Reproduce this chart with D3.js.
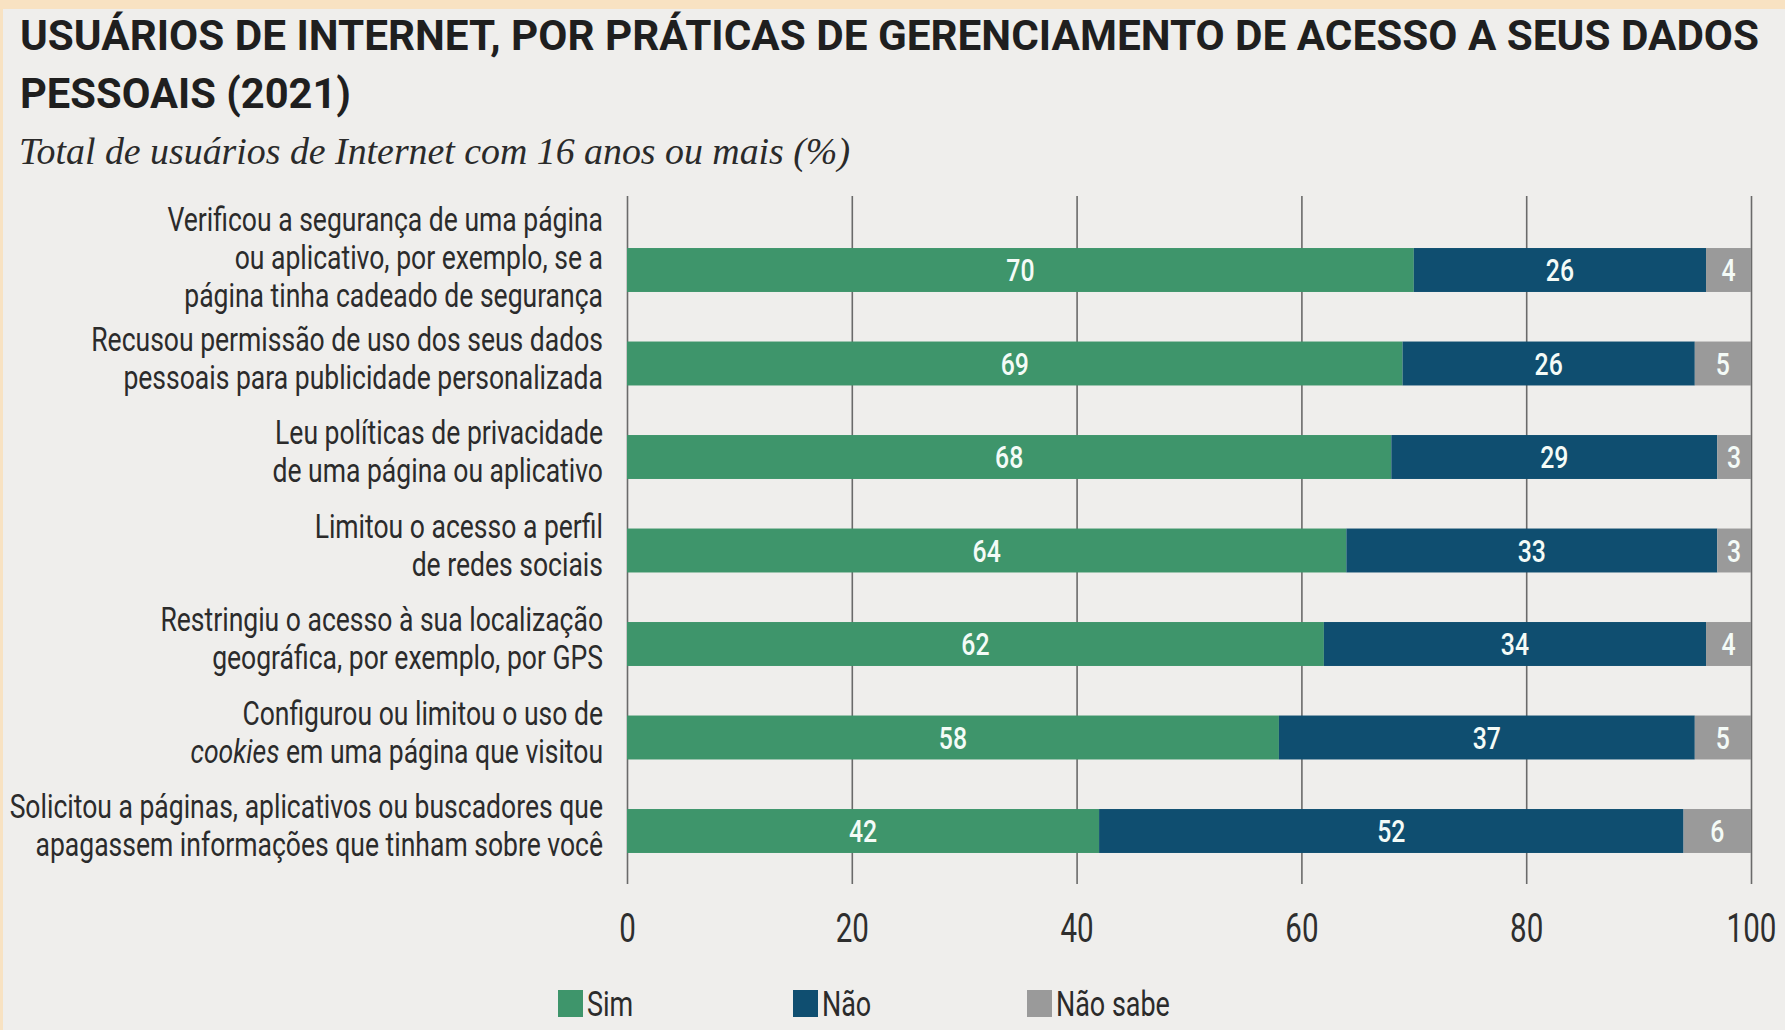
<!DOCTYPE html>
<html>
<head>
<meta charset="utf-8">
<script src="https://cdn.jsdelivr.net/npm/d3@7"></script>
<style>
  html, body { margin: 0; padding: 0; background: #efeeec; }
  svg { display: block; }
</style>
</head>
<body>
<div id="chart"></div>
<script>
// categorias (cada item = linhas do rótulo)
const categories = [
  ["Verificou a segurança de uma página", "ou aplicativo, por exemplo, se a", "página tinha cadeado de segurança"],
  ["Recusou permissão de uso dos seus dados", "pessoais para publicidade personalizada"],
  ["Leu políticas de privacidade", "de uma página ou aplicativo"],
  ["Limitou o acesso a perfil", "de redes sociais"],
  ["Restringiu o acesso à sua localização", "geográfica, por exemplo, por GPS"],
  ["Configurou ou limitou o uso de", "*cookies* em uma página que visitou"],
  ["Solicitou a páginas, aplicativos ou buscadores que", "apagassem informações que tinham sobre você"]
];
const seriesNames = ["Sim", "Não", "Não sabe"];
const sim = [70, 69, 68, 64, 62, 58, 42];
const nao = [26, 26, 29, 33, 34, 37, 52];
const naoSabe = [4, 5, 3, 3, 4, 5, 6];
const tickValues = [0, 20, 40, 60, 80, 100];
const colors = ["#3e956b", "#0f4e70", "#9a9a9a"];

const W = 1785, H = 1030;
const FONT = "Roboto, 'Noto Sans', sans-serif";

const svg = d3.select("#chart").append("svg")
  .attr("width", W).attr("height", H);

// fundo e borda
svg.append("rect").attr("width", W).attr("height", H).attr("fill", "#efeeec");
svg.append("rect").attr("width", W).attr("height", 9).attr("fill", "#f8e2c2");
svg.append("rect").attr("width", 3).attr("height", H).attr("fill", "#f8e2c2");

// título
svg.append("text")
  .attr("x", 20).attr("y", 50)
  .attr("textLength", 1739).attr("lengthAdjust", "spacingAndGlyphs")
  .style("font-family", FONT).style("font-weight", 700).style("font-size", "42px")
  .attr("fill", "#1f1f1f")
  .text("USUÁRIOS DE INTERNET, POR PRÁTICAS DE GERENCIAMENTO DE ACESSO A SEUS DADOS");
svg.append("text")
  .attr("x", 20).attr("y", 108)
  .attr("textLength", 331).attr("lengthAdjust", "spacingAndGlyphs")
  .style("font-family", FONT).style("font-weight", 700).style("font-size", "42px")
  .attr("fill", "#1f1f1f")
  .text("PESSOAIS (2021)");
svg.append("text")
  .attr("x", 19).attr("y", 164)
  .attr("textLength", 831).attr("lengthAdjust", "spacingAndGlyphs")
  .style("font-family", "'Liberation Serif', 'DejaVu Serif', serif")
  .style("font-style", "italic").style("font-size", "38px")
  .attr("fill", "#2a2a2a")
  .text("Total de usuários de Internet com 16 anos ou mais (%)");

// escalas
const x = d3.scaleLinear().domain([0, 100]).range([627, 1751]);
const y = d3.scaleBand()
  .domain(d3.range(categories.length))
  .range([223.25, 877.75])
  .paddingInner(0.53)
  .paddingOuter(0.265);

const gridTop = 196, gridBottom = 884;

// eixo / linhas de grade
const axis = svg.append("g")
  .attr("transform", `translate(0,${gridBottom})`)
  .call(d3.axisBottom(x).tickValues(tickValues).tickSize(-(gridBottom - gridTop)).tickPadding(29));
axis.select(".domain").remove();
axis.selectAll(".tick line").attr("stroke", "#6a6a6a").attr("stroke-width", 1.6);
axis.selectAll(".tick text")
  .attr("fill", "#2e2e2e")
  .style("font-family", FONT).style("font-size", "41px")
  .attr("transform", "scale(0.72,1)");

// barras empilhadas
const rows = categories.map((c, i) => ({ i, values: [sim[i], nao[i], naoSabe[i]] }));
const stacked = [];
rows.forEach(r => {
  let acc = 0;
  r.values.forEach((v, s) => {
    stacked.push({ i: r.i, s, v, x0: acc, x1: acc + v });
    acc += v;
  });
});

svg.append("g").selectAll("rect")
  .data(stacked)
  .join("rect")
  .attr("x", d => x(d.x0))
  .attr("y", d => y(d.i))
  .attr("width", d => x(d.x1) - x(d.x0))
  .attr("height", y.bandwidth())
  .attr("fill", d => colors[d.s]);

// valores nas barras
svg.append("g").selectAll("g")
  .data(stacked)
  .join("g")
  .attr("transform", d => `translate(${(x(d.x0) + x(d.x1)) / 2},${y(d.i) + y.bandwidth() / 2})`)
  .append("text")
  .attr("text-anchor", "middle")
  .attr("dy", "0.36em")
  .attr("transform", "scale(0.8,1)")
  .attr("fill", "#f4fbf7")
  .style("font-family", FONT).style("font-weight", 500).style("font-size", "31px")
  .text(d => d.v);

// rótulos das categorias
const lineH = 38;
const labelG = svg.append("g").selectAll("g")
  .data(categories)
  .join("g")
  .attr("transform", (d, i) => `translate(603,${y(i) + y.bandwidth() / 2 - 6 - (d.length - 2) * 7})`);

labelG.each(function(lines) {
  const g = d3.select(this).append("g").attr("transform", "scale(0.78,1)");
  const n = lines.length;
  lines.forEach((line, k) => {
    const t = g.append("text")
      .attr("x", 0)
      .attr("y", (k - (n - 1) / 2) * lineH)
      .attr("dy", "0.36em")
      .attr("text-anchor", "end")
      .attr("fill", "#2b2b2b")
      .style("font-family", FONT).style("font-size", "34px");
    const parts = line.split("*");
    parts.forEach((p, j) => {
      if (!p) return;
      t.append("tspan").style("font-style", j % 2 ? "italic" : "normal").text(p);
    });
  });
});

// legenda
const legendX = [558, 793, 1027];
const legend = svg.append("g").selectAll("g")
  .data(seriesNames)
  .join("g")
  .attr("transform", (d, i) => `translate(${legendX[i]},990)`);
legend.append("rect")
  .attr("width", 25).attr("height", 27)
  .attr("fill", (d, i) => colors[i]);
legend.append("text")
  .attr("transform", "translate(29,26) scale(0.77,1)")
  .attr("fill", "#2b2b2b")
  .style("font-family", FONT).style("font-size", "35px")
  .text(d => d);
</script>
</body>
</html>
